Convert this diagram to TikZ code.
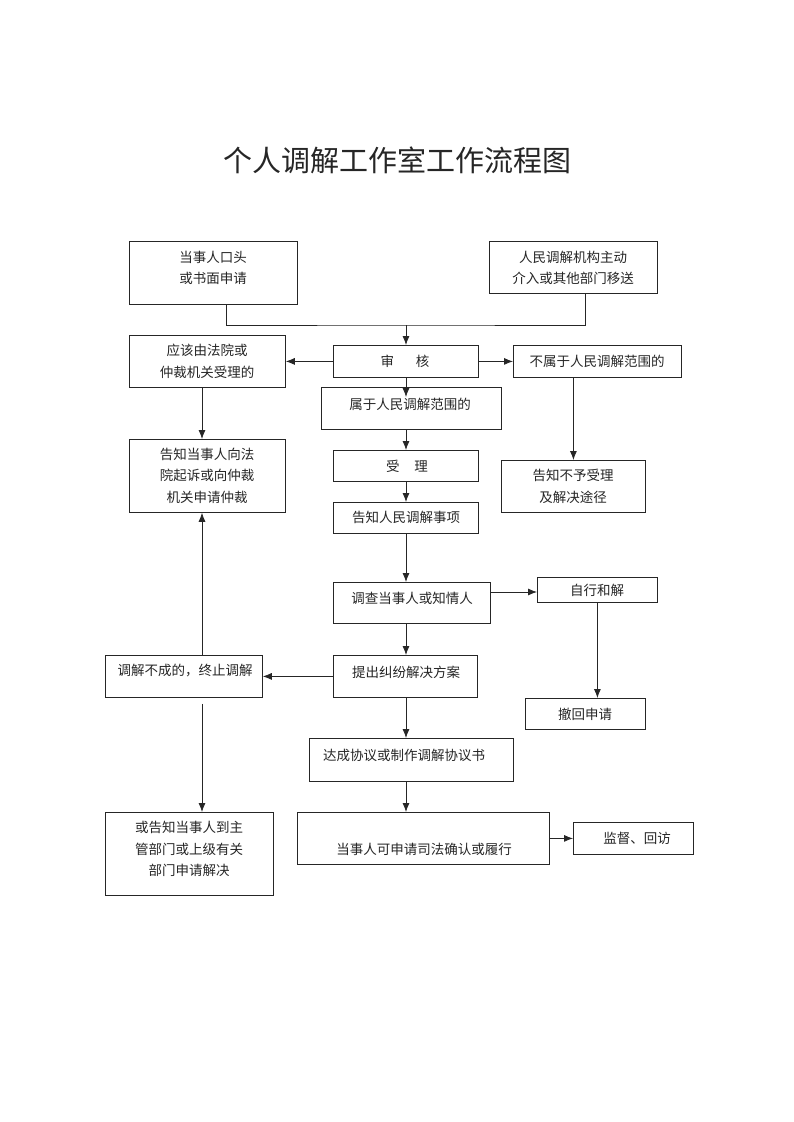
\documentclass[tikz,border=0pt]{standalone}
\usepackage{fontspec}
\setmainfont{Noto Sans CJK SC}
\usetikzlibrary{arrows.meta,calc}
\begin{document}
\begin{tikzpicture}[x=1pt,y=-1pt,
  box/.style={draw=black!85,line width=0.8pt,anchor=north west,inner sep=0pt},
  txt/.style={font=\fontsize{13.5}{21.5}\selectfont,align=center,inner sep=0pt,text=black!85},
  arr/.style={draw=black!85,line width=0.8pt,-{Latex[length=9pt,width=7pt]}},
  ln/.style={draw=black!85,line width=0.8pt}]
\useasboundingbox[fill=white] (0,0) rectangle (793,1122);
\node[font=\fontsize{29}{34}\selectfont,text=black!85] (title) at (397,160) {个人调解工作室工作流程图};
% boxes
\node[box,minimum width=168,minimum height=63] (a) at (129,241) {};
\node[box,minimum width=168,minimum height=52] (b) at (489,241) {};
\node[box,minimum width=145,minimum height=32] (sh) at (333,345) {};
\node[box,minimum width=156,minimum height=52] (yg) at (129,335) {};
\node[box,minimum width=168,minimum height=32] (bs) at (513,345) {};
\node[box,minimum width=180,minimum height=42] (ss) at (321,387) {};
\node[box,minimum width=145,minimum height=31] (sl) at (333,450) {};
\node[box,minimum width=145,minimum height=31] (gz) at (333,502) {};
\node[box,minimum width=157,minimum height=41] (dc) at (333,582) {};
\node[box,minimum width=120,minimum height=25] (zx) at (537,577) {};
\node[box,minimum width=120,minimum height=31] (ch) at (525,698) {};
\node[box,minimum width=144,minimum height=42] (tc) at (333,655) {};
\node[box,minimum width=157,minimum height=42] (bc) at (105,655) {};
\node[box,minimum width=156,minimum height=73] (gf) at (129,439) {};
\node[box,minimum width=144,minimum height=52] (bz) at (501,460) {};
\node[box,minimum width=168,minimum height=83] (hz) at (105,812) {};
\node[box,minimum width=204,minimum height=43] (dx) at (309,738) {};
\node[box,minimum width=252,minimum height=52] (qr) at (297,812) {};
\node[box,minimum width=120,minimum height=32] (jd) at (573,822) {};
% texts
\node[txt] (a-t) at (213,268) {当事人口头\\或书面申请};
\node[txt] (b-t) at (573,268) {人民调解机构主动\\介入或其他部门移送};
\node[txt] (sh-t) at (405,361) {审\hspace{1.6em}核};
\node[txt] (yg-t) at (207,361.5) {应该由法院或\\仲裁机关受理的};
\node[txt] (bs-t) at (597,361) {不属于人民调解范围的};
\node[txt] (ss-t) at (410,404) {属于人民调解范围的};
\node[txt] (sl-t) at (407,466) {受\hspace{1.1em}理};
\node[txt] (gz-t) at (406,517) {告知人民调解事项};
\node[txt] (dc-t) at (412,598) {调查当事人或知情人};
\node[txt] (zx-t) at (597,590) {自行和解};
\node[txt] (ch-t) at (585,714) {撤回申请};
\node[txt] (tc-t) at (406,672) {提出纠纷解决方案};
\node[txt] (bc-t) at (185,671) {调解不成的，终止调解};
\node[txt] (gf-t) at (207,475.5) {告知当事人向法\\院起诉或向仲裁\\机关申请仲裁};
\node[txt] (bz-t) at (573,486.5) {告知不予受理\\及解决途径};
\node[txt] (hz-t) at (189,849) {或告知当事人到主\\管部门或上级有关\\部门申请解决};
\node[txt] (dx-t) at (404,755) {达成协议或制作调解协议书};
\node[txt] (qr-t) at (424,849) {当事人可申请司法确认或履行};
\node[txt] (jd-t) at (637,838) {监督、回访};
% helper coordinates
\coordinate (j) at (406,325);
\coordinate (cx) at (406,0);
\coordinate (lx) at (202,0);
% connectors
\draw[ln] ($(a.south)+(13,0)$) |- (j) -| ($(b.south)+(12,0)$);
\draw[arr] (j) -- (j |- sh.north);
\draw[arr] (sh.west) -- (sh.west -| yg.east);
\draw[arr] (sh.east) -- (sh.east -| bs.west);
\draw[arr] (sh.south -| cx) -- ($(ss.north -| cx)+(0,10)$);
\draw[arr] (ss.south -| cx) -- (sl.north -| cx);
\draw[arr] (sl.south -| cx) -- (gz.north -| cx);
\draw[arr] (gz.south -| cx) -- (dc.north -| cx);
\draw[arr] ($(dc.north east)+(0,10)$) -- ($(zx.north west)+(0,15)$);
\draw[arr] (zx.south) -- (zx.south |- ch.north);
\draw[arr] (dc.south -| cx) -- (tc.north -| cx);
\draw[arr] (tc.west) -- (tc.west -| bc.east);
\draw[arr] (bc.north -| lx) -- (gf.south -| lx);
\draw[arr] (yg.south -| lx) -- (gf.north -| lx);
\draw[arr] (bs.south -| bz.north) -- (bz.north);
\draw[arr] ($(bc.south -| lx)+(0,6)$) -- (hz.north -| lx);
\draw[arr] (tc.south -| cx) -- (dx.north -| cx);
\draw[arr] (dx.south -| cx) -- (qr.north -| cx);
\draw[arr] (jd.west -| qr.east) -- (jd.west);
\end{tikzpicture}
\end{document}
